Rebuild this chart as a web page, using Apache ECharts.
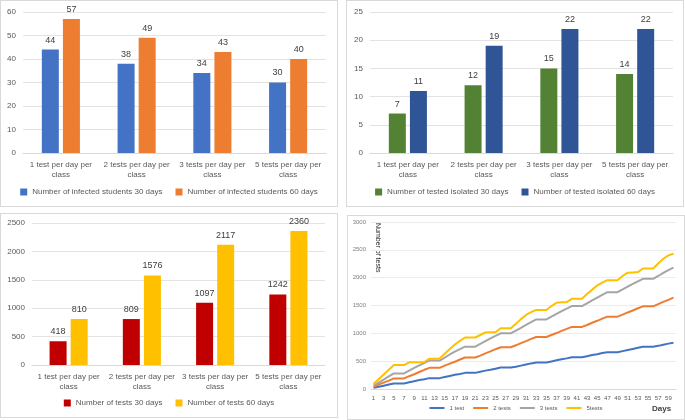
<!DOCTYPE html>
<html>
<head>
<meta charset="utf-8">
<script src="https://cdn.jsdelivr.net/npm/echarts@6.0.0/dist/echarts.min.js"></script>
<style>
html, body { margin:0; padding:0; background:#fff; }
body { width:685px; height:420px; position:relative; overflow:hidden; }
.panel { position:absolute; box-sizing:border-box; border:1px solid #d9d9d9; background:#fff; }
</style>
</head>
<body>
<div id="p1" class="panel" style="left:0;top:0;width:338px;height:207px;"></div>
<div id="p2" class="panel" style="left:346px;top:0;width:338px;height:207px;"></div>
<div id="p3" class="panel" style="left:0;top:213px;width:338px;height:205px;"></div>
<div id="p4" class="panel" style="left:347px;top:215px;width:338px;height:205px;"></div>
<script>
// categories shared by the three bar charts
var categories = ['1 test per day per class', '2 tests per day per class', '3 tests per day per class', '5 tests per day per class'];

var infected30 = [44, 38, 34, 30];
var infected60 = [57, 49, 43, 40];

var isolated30 = [7, 12, 15, 14];
var isolated60 = [11, 19, 22, 22];

var tests30 = [418, 809, 1097, 1242];
var tests60 = [810, 1576, 2117, 2360];

// line chart (cumulative number of tests per day)
var days = [1,2,3,4,5,6,7,8,9,10,11,12,13,14,15,16,17,18,19,20,
	21,22,23,24,25,26,27,28,29,30,31,32,33,34,35,36,37,38,39,40,
	41,42,43,44,45,46,47,48,49,50,51,52,53,54,55,56,57,58,59,60];
var test1 = [20,40,60,80,100,100,100,120,140,160,175,195,195,195,215,235,255,270,290,290,
	290,310,330,345,365,385,385,385,400,420,440,460,475,475,475,495,515,535,550,570,
	570,570,590,610,625,645,660,660,660,680,700,720,740,760,760,760,775,795,815,830];
var test2 = [40,80,115,150,190,190,190,230,265,305,345,380,380,380,420,455,490,530,565,565,
	565,600,640,675,715,750,750,750,785,825,860,900,935,935,935,970,1005,1045,1080,1115,
	1115,1115,1150,1190,1225,1265,1300,1300,1300,1335,1375,1410,1450,1485,1485,1485,1525,1565,1600,1640];
var test3 = [60,115,170,225,280,280,280,330,380,425,470,510,510,510,565,620,670,715,760,760,
	760,810,860,910,955,1000,1000,1000,1050,1100,1150,1200,1250,1250,1250,1300,1350,1400,1445,1490,
	1490,1490,1540,1590,1640,1690,1740,1740,1740,1790,1840,1890,1935,1980,1980,1980,2030,2085,2135,2180];
var test5 = [90,175,260,345,430,430,430,480,480,480,485,545,545,550,635,720,800,865,925,925,
	925,970,1015,1020,1020,1090,1090,1090,1170,1255,1330,1380,1420,1420,1420,1490,1550,1560,1560,1620,
	1620,1620,1705,1785,1860,1910,1955,1955,1955,2030,2090,2095,2100,2165,2165,2165,2255,2340,2400,2430];
var lineNames = ['1 test', '2 tests', '3 tests', '5tests'];

var FONT = 'Liberation Sans';

// 천 단위 구분기호 없이 표시
function plain(v){
	return String(v);
}

/*
 * 막대 차트 하나를 그린다.
 */
function makeBarChart(id, names, a, b, colors, yMax, yInterval, grid, legendBottom){
	var chart = echarts.init(document.getElementById(id));
	var labelStyle = { show:true, position:'top', distance:5, fontSize:9, color:'#404040', fontFamily:FONT };
	var option = {
		animation:false,
		textStyle:{ fontFamily:FONT },
		grid:grid,
		legend:{
			bottom:legendBottom, left:'center',
			itemWidth:7, itemHeight:7, itemGap:13, icon:'rect',
			textStyle:{ fontSize:8, color:'#595959', fontFamily:FONT },
			data:names
		},
		xAxis:{
			type:'category',
			data:categories,
			axisTick:{ show:false },
			axisLine:{ lineStyle:{ color:'#d9d9d9' } },
			axisLabel:{
				interval:0, margin:7, fontSize:8, color:'#595959', lineHeight:10, fontFamily:FONT,
				formatter:function(v){ return v.replace(' class', '\nclass'); }
			}
		},
		yAxis:{
			type:'value', min:0, max:yMax, interval:yInterval,
			axisLine:{ show:false }, axisTick:{ show:false },
			axisLabel:{ fontSize:8, color:'#595959', margin:7, fontFamily:FONT, formatter:plain },
			splitLine:{ lineStyle:{ color:'#e3e3e3' } }
		},
		series:[
			{ name:names[0], type:'bar', data:a, barWidth:17, barGap:'24%', itemStyle:{ color:colors[0] }, label:labelStyle },
			{ name:names[1], type:'bar', data:b, barWidth:17, itemStyle:{ color:colors[1] }, label:labelStyle }
		]
	};
	chart.setOption(option);
	return chart;
}

makeBarChart('p1', ['Number of infected students 30 days', 'Number of infected students 60 days'],
	infected30, infected60, ['#4472C4', '#ED7D31'], 60, 10,
	{ left:22, right:11, top:11, bottom:53 }, 5);

makeBarChart('p2', ['Number of tested isolated 30 days', 'Number of tested isolated 60 days'],
	isolated30, isolated60, ['#548235', '#2F5597'], 25, 5,
	{ left:23, right:10, top:11, bottom:53 }, 5);

makeBarChart('p3', ['Number of tests 30 days', 'Number of tests 60 days'],
	tests30, tests60, ['#C00000', '#FFC000'], 2500, 500,
	{ left:31, right:12, top:9, bottom:52 }, 5);

// 누적 검사 수 선 차트
var lineChart = echarts.init(document.getElementById('p4'));
var lineColors = ['#4472C4', '#ED7D31', '#A5A5A5', '#FFC000'];
var lineData = [test1, test2, test3, test5];
var lineSeries = [];
for (var i = 0; i < lineNames.length; i++) {
	lineSeries.push({
		name:lineNames[i], type:'line', data:lineData[i],
		symbol:'none', smooth:false,
		lineStyle:{ width:2, color:lineColors[i] },
		itemStyle:{ color:lineColors[i] }
	});
}
lineChart.setOption({
	animation:false,
	textStyle:{ fontFamily:FONT },
	grid:{ left:23, right:8, top:6, bottom:30 },
	legend:{
		bottom:3, left:'center',
		icon:'rect', itemWidth:15, itemHeight:2, itemGap:9,
		textStyle:{ fontSize:6, color:'#595959', fontFamily:FONT },
		data:lineNames
	},
	xAxis:{
		type:'category', data:days, boundaryGap:true,
		axisTick:{ show:false },
		axisLine:{ lineStyle:{ color:'#d9d9d9' } },
		axisLabel:{ interval:1, fontSize:6, color:'#595959', margin:6 }
	},
	yAxis:{
		type:'value', min:0, max:3000, interval:500,
		axisLine:{ show:false }, axisTick:{ show:false },
		axisLabel:{ fontSize:6, color:'#7f7f7f', margin:5, formatter:plain },
		splitLine:{ lineStyle:{ color:'#ececec' } }
	},
	graphic:[
		{ type:'text', x:30, y:7, rotation:-Math.PI / 2,
			style:{ text:'Number of tests', fontSize:7, fill:'#262626', align:'left', verticalAlign:'middle', fontFamily:FONT } },
		{ type:'text', x:304, y:193,
			style:{ text:'Days', fontSize:8, fontWeight:'bold', fill:'#404040', align:'left', verticalAlign:'middle', fontFamily:FONT } }
	],
	series:lineSeries
});
</script>
</body>
</html>
